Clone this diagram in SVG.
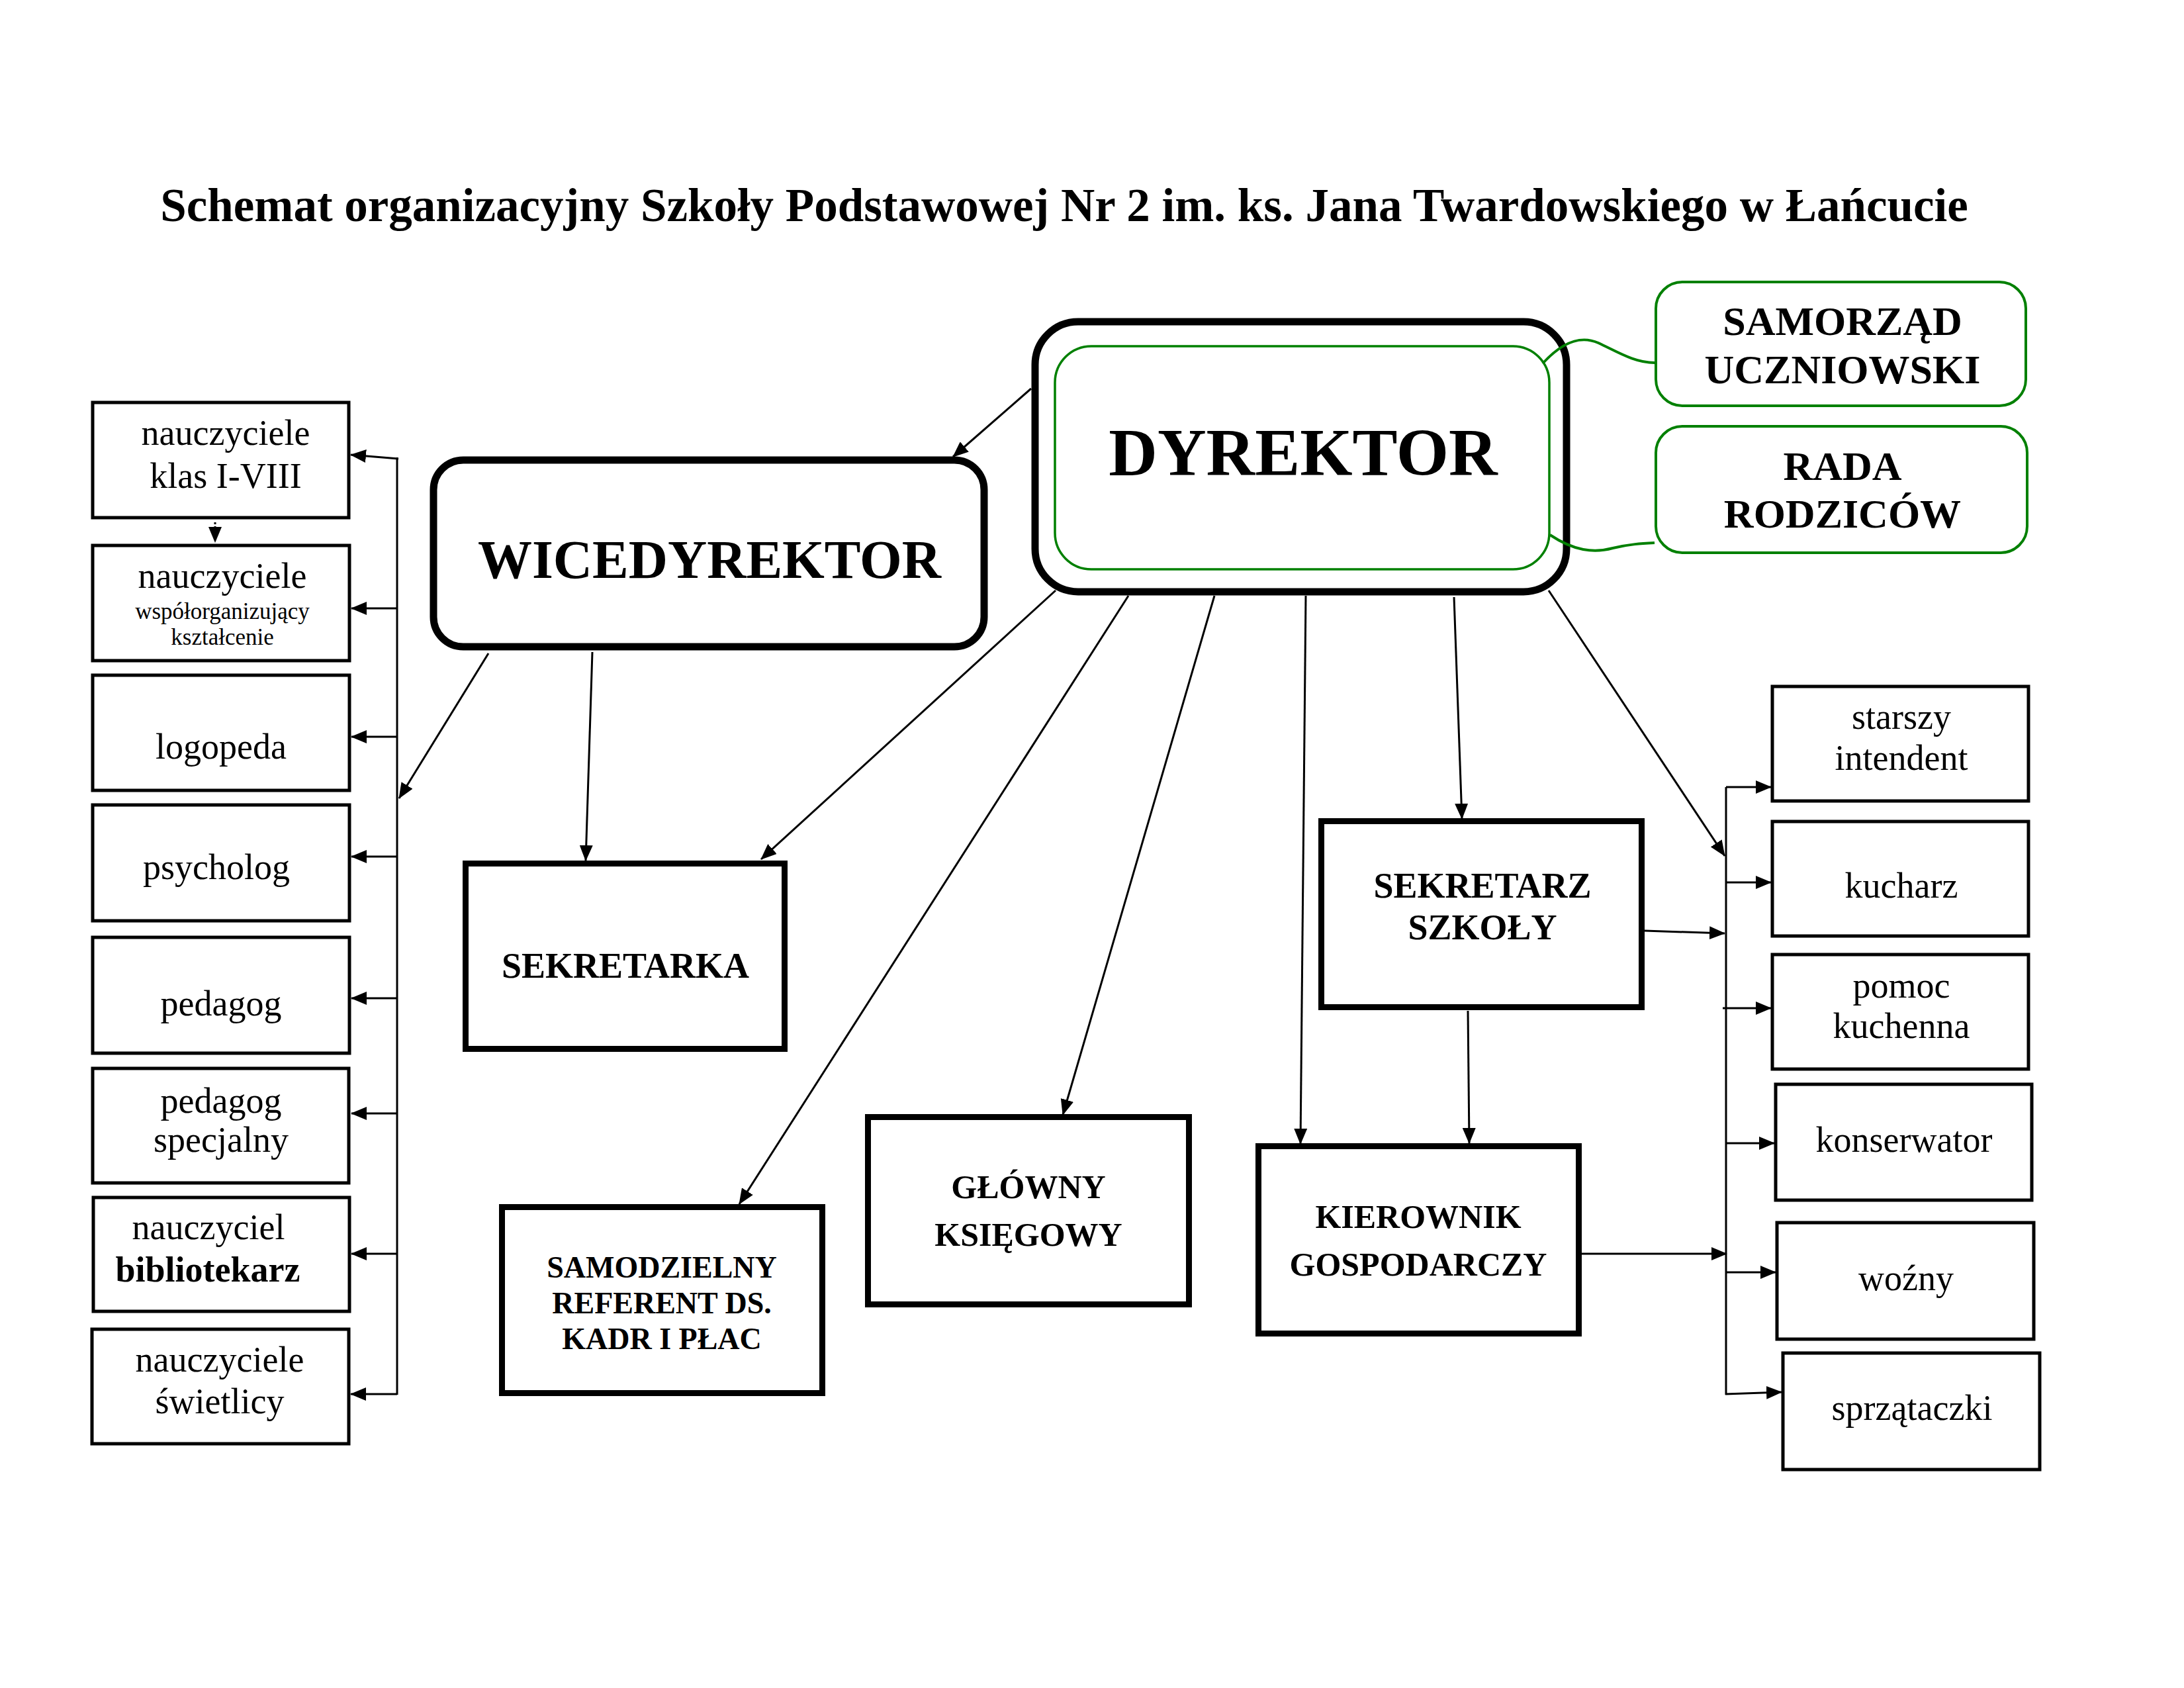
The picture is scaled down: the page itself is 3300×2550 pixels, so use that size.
<svg xmlns="http://www.w3.org/2000/svg" width="3300" height="2550" viewBox="0 0 3300 2550">
<style>
text{font-family:"Liberation Serif","Times New Roman",serif;fill:#000;text-anchor:middle}
.b{font-weight:bold}
.t{font-size:54px}
.s{font-size:35px}
.thin{fill:#fff;stroke:#000;stroke-width:5}
.mid{fill:#fff;stroke:#000;stroke-width:9}
.gbox{fill:#fff;stroke:#008000;stroke-width:4}
.ln{stroke:#000;stroke-width:3;fill:none}
.ar{stroke:#000;stroke-width:3;fill:none;marker-end:url(#ah)}
.gl{stroke:#008000;stroke-width:4;fill:none}
</style>
<defs>
<marker id="ah" markerUnits="userSpaceOnUse" markerWidth="24" markerHeight="20" refX="23" refY="10" orient="auto" viewBox="0 0 24 20">
<path d="M0,0 L24,10 L0,20 Z" fill="#000"/>
</marker>
</defs>
<rect width="3300" height="2550" fill="#fff"/>
<text id="title" class="b" x="1608" y="334" font-size="71">Schemat organizacyjny Szkoły Podstawowej Nr 2 im. ks. Jana Twardowskiego w Łańcucie</text>

<g id="connectors">
<line class="ar" x1="1558" y1="587" x2="1440" y2="690"/>
<line class="ar" x1="1595" y1="892" x2="1150" y2="1298"/>
<line class="ar" x1="1705" y1="900" x2="1117" y2="1819"/>
<line class="ar" x1="1835" y1="900" x2="1606" y2="1684"/>
<line class="ar" x1="1973" y1="900" x2="1965" y2="1728"/>
<line class="ar" x1="2197" y1="902" x2="2209" y2="1237"/>
<line class="ar" x1="2340" y1="892" x2="2606" y2="1293"/>
<line class="ar" x1="895" y1="985" x2="885" y2="1300"/>
<line class="ar" x1="738" y1="987" x2="603" y2="1206"/>
<line class="ar" x1="2218" y1="1527" x2="2220" y2="1727"/>
<line class="ar" x1="2485" y1="1406" x2="2606" y2="1410"/>
<line class="ar" x1="2389" y1="1894" x2="2609" y2="1894"/>
<line class="ln" x1="600" y1="691" x2="600" y2="2107"/>
<line class="ar" x1="602" y1="693" x2="530" y2="687"/>
<line class="ar" x1="600" y1="919" x2="531" y2="919"/>
<line class="ar" x1="600" y1="1113" x2="531" y2="1113"/>
<line class="ar" x1="600" y1="1294" x2="531" y2="1294"/>
<line class="ar" x1="600" y1="1508" x2="531" y2="1508"/>
<line class="ar" x1="600" y1="1682" x2="531" y2="1682"/>
<line class="ar" x1="600" y1="1894" x2="531" y2="1894"/>
<line class="ar" x1="600" y1="2106" x2="530" y2="2106"/>
<line x1="325" y1="789" x2="325" y2="819" stroke="#000" stroke-width="3" stroke-dasharray="3 3" marker-end="url(#ah)"/>
<line class="ln" x1="2608" y1="1189" x2="2608" y2="2107"/>
<line class="ar" x1="2608" y1="1189" x2="2676" y2="1189"/>
<line class="ar" x1="2608" y1="1333" x2="2676" y2="1333"/>
<line class="ar" x1="2603" y1="1523" x2="2676" y2="1523"/>
<line class="ar" x1="2608" y1="1727" x2="2681" y2="1727"/>
<line class="ar" x1="2608" y1="1922" x2="2683" y2="1922"/>
<line class="ar" x1="2607" y1="2106" x2="2692" y2="2103"/>
</g>

<g id="dyrektor">
<rect x="1564" y="486" width="803" height="408" rx="65" fill="#fff" stroke="#000" stroke-width="11"/>
<rect x="1594" y="523" width="747" height="337" rx="55" fill="none" stroke="#008000" stroke-width="3.5"/>
<text class="b" x="1969" y="718" font-size="102">DYREKTOR</text>
</g>
<g id="green-links">
<path class="gl" d="M2331,549 C2365,512 2392,508 2415,518 C2445,532 2470,548 2500,548"/>
<path class="gl" d="M2342,808 C2378,832 2408,836 2437,828 C2462,822 2480,821 2500,820"/>
</g>
<g id="samorzad">
<rect class="gbox" x="2502" y="426" width="559" height="187" rx="40"/>
<text class="b" x="2784" y="506" font-size="62">SAMORZĄD</text>
<text class="b" x="2784" y="579" font-size="62">UCZNIOWSKI</text>
</g>
<g id="rada">
<rect class="gbox" x="2502" y="644" width="561" height="191" rx="40"/>
<text class="b" x="2784" y="725" font-size="62">RADA</text>
<text class="b" x="2784" y="797" font-size="62">RODZICÓW</text>
</g>
<g id="wicedyrektor">
<rect x="655" y="695" width="832" height="282" rx="45" fill="#fff" stroke="#000" stroke-width="11"/>
<text class="b" x="1072" y="873" font-size="82">WICEDYREKTOR</text>
</g>
<g id="sekretarka">
<rect class="mid" x="703.5" y="1304.5" width="482" height="280"/>
<text class="b t" x="945" y="1477">SEKRETARKA</text>
</g>
<g id="samodzielny">
<rect class="mid" x="758.5" y="1823.5" width="484" height="281"/>
<text class="b" x="1000" y="1930" font-size="46">SAMODZIELNY</text>
<text class="b" x="1000" y="1984" font-size="46">REFERENT DS.</text>
<text class="b" x="1000" y="2038" font-size="46">KADR I PŁAC</text>
</g>
<g id="glowny">
<rect class="mid" x="1311.5" y="1687.5" width="485" height="283"/>
<text class="b" x="1554" y="1810" font-size="50">GŁÓWNY</text>
<text class="b" x="1554" y="1882" font-size="50">KSIĘGOWY</text>
</g>
<g id="kierownik">
<rect class="mid" x="1901.5" y="1731.5" width="484" height="283"/>
<text class="b" x="2143" y="1855" font-size="50">KIEROWNIK</text>
<text class="b" x="2143" y="1927" font-size="50">GOSPODARCZY</text>
</g>
<g id="sekretarz">
<rect class="mid" x="1996.5" y="1240.5" width="484" height="281"/>
<text class="b t" x="2240" y="1356">SEKRETARZ</text>
<text class="b t" x="2240" y="1419">SZKOŁY</text>
</g>

<g id="n-klas">
<rect class="thin" x="140" y="608" width="387" height="174"/>
<text class="t" x="341" y="672">nauczyciele</text>
<text class="t" x="341" y="737">klas I-VIII</text>
</g>
<g id="n-wspol">
<rect class="thin" x="140" y="824" width="388" height="174"/>
<text class="t" x="336" y="888">nauczyciele</text>
<text class="s" x="336" y="935">współorganizujący</text>
<text class="s" x="336" y="974">kształcenie</text>
</g>
<g id="logopeda">
<rect class="thin" x="140" y="1020" width="388" height="174"/>
<text class="t" x="334" y="1146">logopeda</text>
</g>
<g id="psycholog">
<rect class="thin" x="140" y="1216" width="388" height="175"/>
<text class="t" x="327" y="1328">psycholog</text>
</g>
<g id="pedagog">
<rect class="thin" x="140" y="1416" width="388" height="175"/>
<text class="t" x="334" y="1534">pedagog</text>
</g>
<g id="pedagog-spec">
<rect class="thin" x="140" y="1614" width="387" height="173"/>
<text class="t" x="334" y="1681">pedagog</text>
<text class="t" x="334" y="1740">specjalny</text>
</g>
<g id="bibliotekarz">
<rect class="thin" x="141" y="1809" width="387" height="172"/>
<text class="t" x="315" y="1872">nauczyciel</text>
<text class="t b" x="314" y="1936">bibliotekarz</text>
</g>
<g id="swietlica">
<rect class="thin" x="139" y="2008" width="388" height="173"/>
<text class="t" x="332" y="2072">nauczyciele</text>
<text class="t" x="332" y="2135">świetlicy</text>
</g>

<g id="intendent">
<rect class="thin" x="2678" y="1037" width="387" height="173"/>
<text class="t" x="2873" y="1101">starszy</text>
<text class="t" x="2873" y="1163">intendent</text>
</g>
<g id="kucharz">
<rect class="thin" x="2678" y="1241" width="387" height="173"/>
<text class="t" x="2873" y="1356">kucharz</text>
</g>
<g id="pomoc">
<rect class="thin" x="2678" y="1442" width="387" height="173"/>
<text class="t" x="2873" y="1507">pomoc</text>
<text class="t" x="2873" y="1568">kuchenna</text>
</g>
<g id="konserwator">
<rect class="thin" x="2683" y="1638" width="387" height="175"/>
<text class="t" x="2877" y="1740">konserwator</text>
</g>
<g id="wozny">
<rect class="thin" x="2685" y="1847" width="388" height="176"/>
<text class="t" x="2880" y="1949">woźny</text>
</g>
<g id="sprzataczki">
<rect class="thin" x="2694" y="2044" width="388" height="176"/>
<text class="t" x="2889" y="2145">sprzątaczki</text>
</g>
</svg>
